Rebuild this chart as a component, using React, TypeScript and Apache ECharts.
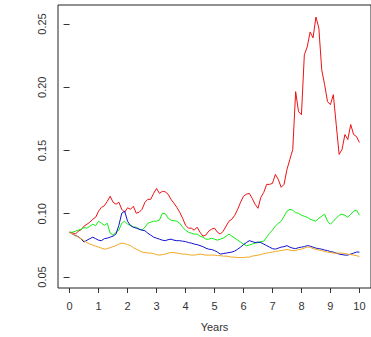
import React, { useEffect, useRef } from "react";
import * as echarts from "echarts";

const years: number[] = Array.from({ length: 101 }, (_, i) => Math.round(i) / 10);

const xTicks = [0, 1, 2, 3, 4, 5, 6, 7, 8, 9, 10];
const yTicks = [0.05, 0.1, 0.15, 0.2, 0.25];

const redSeries = [
  0.0854, 0.085, 0.0839, 0.0862, 0.0874, 0.0902, 0.0917, 0.0933, 0.0957, 0.0972,
  0.102, 0.1051, 0.1063, 0.1098, 0.1138, 0.1091, 0.1075, 0.1091, 0.1035, 0.1012,
  0.1047, 0.1035, 0.1059, 0.1004, 0.1012, 0.1035, 0.1091, 0.1114, 0.1114, 0.1161,
  0.12, 0.1161, 0.1177, 0.1173, 0.1154, 0.1114, 0.1083, 0.1051, 0.1012, 0.0965,
  0.0909, 0.0886, 0.0886, 0.087, 0.0894, 0.0854, 0.0823, 0.0831, 0.0862, 0.0878,
  0.0886, 0.0854, 0.0839, 0.0862, 0.0902, 0.0941, 0.0957, 0.0988, 0.1035, 0.1091,
  0.1138, 0.1154, 0.1161, 0.1122, 0.1075, 0.1043, 0.113, 0.1169, 0.1232, 0.1232,
  0.124, 0.1311, 0.1272, 0.1209, 0.1232, 0.135, 0.1429, 0.1508, 0.1965, 0.1807,
  0.1783, 0.2256, 0.2319, 0.2437, 0.239, 0.2555, 0.2469, 0.2138, 0.202, 0.1886,
  0.1862, 0.1941, 0.1705, 0.1469, 0.1508, 0.1626, 0.1587, 0.1705, 0.1626, 0.161,
  0.1563,
];

const greenSeries = [
  0.0852, 0.0854, 0.0862, 0.087, 0.0878, 0.089, 0.0886, 0.0902, 0.0917, 0.0906,
  0.0941, 0.0925, 0.0909, 0.0925, 0.0846, 0.0831, 0.0854, 0.087, 0.0925, 0.0941,
  0.0917, 0.0909, 0.0894, 0.0894, 0.0878, 0.087, 0.0894, 0.0925, 0.0933, 0.0941,
  0.0941, 0.0949, 0.1004, 0.1, 0.0965, 0.0949, 0.0945, 0.0941, 0.0925, 0.0894,
  0.087, 0.0854, 0.0846, 0.0839, 0.0839, 0.0823, 0.0815, 0.0799, 0.0799, 0.0807,
  0.0799, 0.0791, 0.0799, 0.0807, 0.0823, 0.0839, 0.0823, 0.0807, 0.0791, 0.0776,
  0.076, 0.0748, 0.0752, 0.076, 0.0768, 0.0772, 0.078, 0.0783, 0.0815, 0.0846,
  0.087, 0.0902, 0.0925, 0.0941, 0.098, 0.102, 0.1035, 0.1028, 0.1008, 0.1004,
  0.0988, 0.098, 0.0972, 0.0957, 0.0949, 0.0941, 0.0965, 0.098, 0.0996, 0.0941,
  0.0917, 0.0941, 0.0965, 0.0988, 0.0996, 0.0988, 0.0972, 0.0996, 0.102, 0.1028,
  0.0988,
];

const blueSeries = [
  0.0854, 0.0839, 0.0827, 0.0819, 0.0799, 0.0776, 0.0791, 0.0803, 0.0815, 0.0803,
  0.0791, 0.0787, 0.0803, 0.0807, 0.0815, 0.0823, 0.0839, 0.0909, 0.1004, 0.102,
  0.0941, 0.0906, 0.0894, 0.0886, 0.0878, 0.087, 0.0866, 0.0846, 0.0831, 0.0815,
  0.0807, 0.0799, 0.0791, 0.0787, 0.0795, 0.0799, 0.0791, 0.0787, 0.0787, 0.0783,
  0.078, 0.0772, 0.0768, 0.076, 0.0756, 0.0748, 0.074, 0.0728, 0.072, 0.0717,
  0.0709, 0.0697, 0.0681, 0.0685, 0.0689, 0.0693, 0.0697, 0.0705, 0.072, 0.0736,
  0.0756, 0.0772, 0.0787, 0.078, 0.0772, 0.0776, 0.0772, 0.076, 0.0748, 0.0736,
  0.0724, 0.072, 0.0728, 0.0736, 0.074, 0.0748, 0.0736, 0.0728, 0.0724, 0.0732,
  0.0736, 0.074, 0.0748, 0.0744, 0.0736, 0.0728, 0.0724, 0.072, 0.0713, 0.0709,
  0.0701, 0.0697, 0.0689, 0.0681, 0.0677, 0.0673, 0.0673, 0.0681, 0.0689, 0.0697,
  0.0697,
];

const orangeSeries = [
  0.0854, 0.0839, 0.0827, 0.0815, 0.0803, 0.0787, 0.0772, 0.076, 0.0752, 0.0744,
  0.0736, 0.0728, 0.072, 0.0724, 0.0732, 0.074, 0.0748, 0.076, 0.0768, 0.0764,
  0.0756, 0.0748, 0.0732, 0.072, 0.0709, 0.0697, 0.0693, 0.0689, 0.0689, 0.0685,
  0.0677, 0.0673, 0.0677, 0.0681, 0.0689, 0.0693, 0.0693, 0.0689, 0.0685, 0.0681,
  0.0681, 0.0677, 0.0673, 0.0673, 0.0677, 0.0681, 0.0677, 0.0673, 0.0673, 0.0673,
  0.0673, 0.0669, 0.0669, 0.0665, 0.0665, 0.0661, 0.0657, 0.0657, 0.0654, 0.0654,
  0.0654, 0.0657, 0.0657, 0.0665, 0.0669, 0.0673, 0.0677, 0.0685, 0.0689, 0.0693,
  0.0697, 0.0701, 0.0705, 0.0709, 0.0713, 0.0717, 0.0713, 0.0709, 0.0709, 0.0717,
  0.072, 0.0728, 0.0736, 0.0736, 0.0724, 0.072, 0.0713, 0.0709, 0.0701, 0.0697,
  0.0693, 0.0689, 0.0689, 0.0689, 0.0689, 0.0685, 0.0681, 0.0677, 0.0673, 0.0669,
  0.0661,
];

const seriesDefs = [
  { name: "red", values: redSeries, color: "#ee1111" },
  { name: "green", values: greenSeries, color: "#11ee11" },
  { name: "blue", values: blueSeries, color: "#1111cc" },
  { name: "orange", values: orangeSeries, color: "#f0a820" },
];

export default function App() {
  const ref = useRef<HTMLDivElement>(null);
  useEffect(() => {
    if (!ref.current) return;
    const chart = echarts.init(ref.current, null, { renderer: "svg" });
    const font = "Liberation Sans, Arial, sans-serif";
    chart.setOption({
      animation: false,
      backgroundColor: "#ffffff",
      grid: {
        left: 58,
        right: -4,
        top: 5,
        bottom: 48,
        show: true,
        borderColor: "#222",
        borderWidth: 1,
        containLabel: false,
      },
      xAxis: {
        type: "value",
        min: -0.4,
        max: 10.4,
        name: "Years",
        nameLocation: "middle",
        nameGap: 33,
        nameTextStyle: { color: "#333", fontSize: 11, fontFamily: font },
        splitLine: { show: false },
        axisLine: { show: false },
        axisTick: {
          show: true,
          length: 5,
          customValues: xTicks,
          lineStyle: { color: "#333" },
        },
        axisLabel: {
          customValues: xTicks,
          margin: 12,
          color: "#333",
          fontSize: 11,
          fontFamily: font,
          formatter: (v: number) => String(v),
        },
      },
      yAxis: {
        type: "value",
        min: 0.0413,
        max: 0.265,
        splitLine: { show: false },
        axisLine: { show: false },
        axisTick: {
          show: true,
          length: 6,
          customValues: yTicks,
          lineStyle: { color: "#333" },
        },
        axisLabel: {
          customValues: yTicks,
          rotate: 90,
          margin: 11,
          color: "#333",
          fontSize: 11,
          fontFamily: font,
          formatter: (v: number) => v.toFixed(2),
        },
      },
      series: seriesDefs.map((s) => ({
        name: s.name,
        type: "line",
        showSymbol: false,
        symbol: "none",
        data: years.map((t, i) => [t, s.values[i]]),
        lineStyle: { color: s.color, width: 1 },
        itemStyle: { color: s.color },
      })),
    });
    return () => chart.dispose();
  }, []);
  return (
    <div
      ref={ref}
      style={{ position: "fixed", left: 0, top: 0, width: 371, height: 337 }}
    />
  );
}
